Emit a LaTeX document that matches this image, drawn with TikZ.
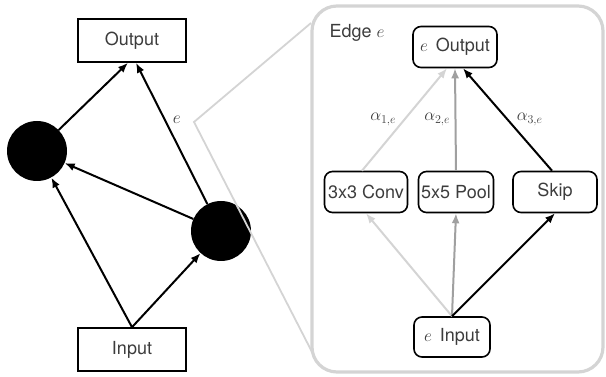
\documentclass[tikz,border=0pt]{standalone}
\usepackage{fontspec}
\setmainfont{TeX Gyre Heros}
\usetikzlibrary{arrows.meta, positioning}

\definecolor{lightline}{RGB}{212,212,212}
\definecolor{midline}{RGB}{160,160,160}
\definecolor{labeltext}{RGB}{60,60,60}

\begin{document}
\begin{tikzpicture}[x=1pt, y=-1pt,
	block/.style={draw, line width=1.6pt, minimum width=108pt, minimum height=43pt, font=\fontsize{18}{20}\selectfont, text=labeltext},
	hidden/.style={circle, fill=black, minimum size=60pt, inner sep=0pt},
	op/.style={draw, line width=1.6pt, rounded corners=8pt, minimum height=41pt, inner sep=2pt, font=\fontsize{18}{20}\selectfont, text=labeltext},
	link/.style={-{Latex[length=10pt, width=8pt]}, line width=2pt},
	weight/.style={font=\fontsize{17}{19}\selectfont, text=labeltext}]
	\useasboundingbox (0,0) rectangle (606,377);

	% cell graph
	\node[block] (out) at (132,40.5) {Output};
	\node[block] (in) at (132,349.5) {Input};
	\node[hidden] (n1) at (37,151) {};
	\node[hidden] (n2) at (221,231) {};

	\draw[link] (in.north) -- (n1);
	\draw[link] (in.north) -- (n2);
	\draw[link] (n2) -- (n1);
	\draw[link] (n1) -- ([xshift=-4pt]out.south);
	\draw[link] (n2) -- node[pos=0.6, right=4pt, weight] {$e$} ([xshift=4pt]out.south);

	% zoomed edge
	\coordinate (pick) at (194,122);
	\coordinate (zoomtop) at (311,23);
	\coordinate (zoombot) at (312,352);
	\draw[lightline, line width=1.8pt] (zoomtop) -- (pick) -- (zoombot);
	\draw[lightline, line width=3.2pt, rounded corners=25pt] (312,6) rectangle (603,372);
	\node[anchor=west, font=\fontsize{18}{20}\selectfont, text=labeltext] (title) at (326,33) {Edge $e$};

	\node[op, minimum width=84pt] (eout) at (455,47) {$e$\, Output};
	\node[op, minimum width=83pt] (conv) at (366,192) {3x3 Conv};
	\node[op, minimum width=75pt] (pool) at (456,192) {5x5 Pool};
	\node[op, minimum width=84pt] (skip) at (555,192) {Skip};
	\node[op, minimum width=76pt, minimum height=40pt] (ein) at (452,337) {$e$\, Input};

	\draw[link, lightline] (ein.north) -- (conv.south);
	\draw[link, midline] (ein.north) -- (pool.south);
	\draw[link] (ein.north) -- (skip.south);

	\draw[link, lightline] ([xshift=-4pt]conv.north) -- node[left=4pt, weight] {$\alpha_{1,e}$} ([xshift=-8pt]eout.south);
	\draw[link, midline] (pool.north) -- node[left=1pt, weight] {$\alpha_{2,e}$} (eout.south);
	\draw[link] ([xshift=-3pt]skip.north) -- node[right=5pt, weight] {$\alpha_{3,e}$} ([xshift=8pt]eout.south);
\end{tikzpicture}
\end{document}
